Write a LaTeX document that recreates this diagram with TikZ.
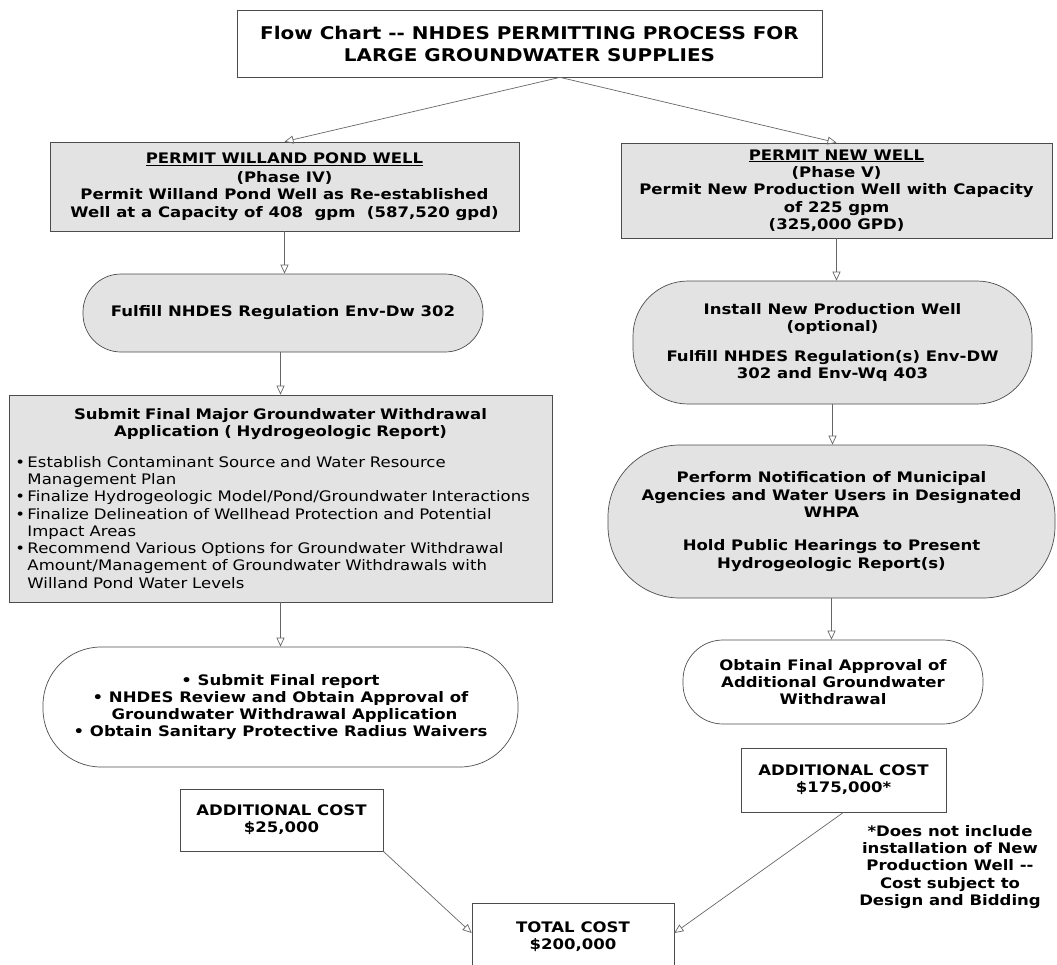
\documentclass[tikz,border=0pt]{standalone}
\usepackage{fontspec}
\setmainfont{DejaVu Sans}[FakeStretch=1.14]
\usetikzlibrary{arrows.meta}
\definecolor{scan}{gray}{0.89}
\def\bl{\makebox[12bp][l]{\textbullet}}
\def\ind{\hspace*{12bp}}

\begin{document}
\begin{tikzpicture}[x=1bp, y=-1bp,
    txt/.style={font=\fontsize{14.5bp}{17.3bp}\selectfont\bfseries, align=center, inner sep=0pt},
    box/.style={txt, rectangle, draw=black!70, line width=0.7bp},
    shaded/.style={fill=scan},
    pill/.style={box, rounded corners=#1},
    link/.style={draw=black!60, line width=0.7bp, -{Triangle[open, length=9bp, width=8bp]}}]
	\useasboundingbox (0,0) rectangle (1057,965);
	\node[box, minimum width=585bp, minimum height=67bp, font=\fontsize{17.5bp}{22bp}\selectfont\bfseries] (title) at (529.5,43.5)
		{Flow Chart -{}- NHDES PERMITTING PROCESS FOR\\LARGE GROUNDWATER SUPPLIES};
	% left column
	\node[box, shaded, minimum width=469bp, minimum height=89bp] (permitOld) at (284.5,186.5)
		{\underline{PERMIT WILLAND POND WELL}\\[2bp](Phase IV)\\Permit Willand Pond Well as Re-established\\Well at a Capacity of 408\ \ gpm\ \ (587,520 gpd)};
	\node[pill=38bp, shaded, minimum width=400bp, minimum height=78bp] (fulfillOld) at (283,313) {Fulfill NHDES Regulation\ Env-Dw 302};
	\node[box, shaded, minimum width=543bp, minimum height=207bp, text width=530bp, align=left] (reportOld) at (280.5,498.5)
		{{\centering Submit Final Major Groundwater Withdrawal\\Application ( Hydrogeologic Report)\par}\vspace{13bp}\mdseries
		\bl\mbox{Establish Contaminant Source and Water Resource}\\
		\ind Management Plan\\
		\bl\mbox{Finalize Hydrogeologic Model/Pond/Groundwater Interactions}\\
		\bl\mbox{Finalize Delineation of Wellhead Protection and Potential}\\
		\ind Impact Areas\\
		\bl\mbox{Recommend Various Options for Groundwater Withdrawal}\\
		\ind\mbox{Amount/Management of Groundwater Withdrawals with}\\
		\ind Willand Pond Water Levels};
	\node[pill=58bp, minimum width=475bp, minimum height=120bp] (approveOld) at (280.5,707)
		{\textbullet\ Submit Final report\\\textbullet\ NHDES Review and Obtain Approval of\\\hspace*{8bp}Groundwater Withdrawal Application\\\textbullet\ Obtain Sanitary Protective Radius Waivers};
	\node[box, minimum width=203bp, minimum height=62bp] (costOld) at (281.5,820) {ADDITIONAL COST\\\$25,000};
	% right column
	\node[box, shaded, minimum width=431bp, minimum height=95bp] (permitNew) at (836.5,190.5)
		{\underline{PERMIT NEW WELL}\\(Phase V)\\Permit New Production Well with Capacity\\of 225 gpm\\(325,000 GPD)};
	\node[pill=55bp, shaded, minimum width=399bp, minimum height=123bp] (installNew) at (832.5,342.5)
		{Install New Production Well\\(optional)\\[13bp]Fulfill NHDES Regulation(s)\ Env-DW\\302 and Env-Wq 403};
	\node[pill=72bp, shaded, minimum width=447bp, minimum height=153bp] (notifyNew) at (831.5,521.5)
		{Perform Notification of Municipal\\Agencies and Water Users in Designated\\WHPA\\[16bp]Hold Public Hearings to Present\\Hydrogeologic Report(s)};
	\node[pill=40bp, minimum width=300bp, minimum height=84bp] (approveNew) at (833,682)
		{Obtain Final Approval of\\Additional Groundwater\\Withdrawal};
	\node[box, minimum width=205bp, minimum height=64bp] (costNew) at (843.5,780) {ADDITIONAL COST\\\$175,000*};
	\node[txt] (note) at (950,867) {*Does not include\\installation of New\\Production Well -{}-\\Cost subject to\\Design and Bidding};
	\node[box, minimum width=202bp, minimum height=68bp] (total) at (573,937) {TOTAL COST\\\$200,000};
	% connectors
	\coordinate (fork) at ([xshift=30.5bp]title.south);
	\draw[link] (fork) -- (permitOld.north);
	\draw[link] (fork) -- (permitNew.north);
	\draw[link] (permitOld.south) -- (permitOld.south |- fulfillOld.north);
	\draw[link] (fulfillOld.south -| reportOld.north) -- (reportOld.north);
	\draw[link] (reportOld.south) -- (approveOld.north);
	\draw[link] (permitNew.south) -- (permitNew.south |- installNew.north);
	\draw[link] (installNew.south) -- (installNew.south |- notifyNew.north);
	\draw[link] (notifyNew.south) -- (notifyNew.south |- approveNew.north);
	\draw[link] (costOld.south east) -- ([yshift=4bp]total.west);
	\draw[link] (costNew.south) -- ([yshift=4bp]total.east);
\end{tikzpicture}
\end{document}
